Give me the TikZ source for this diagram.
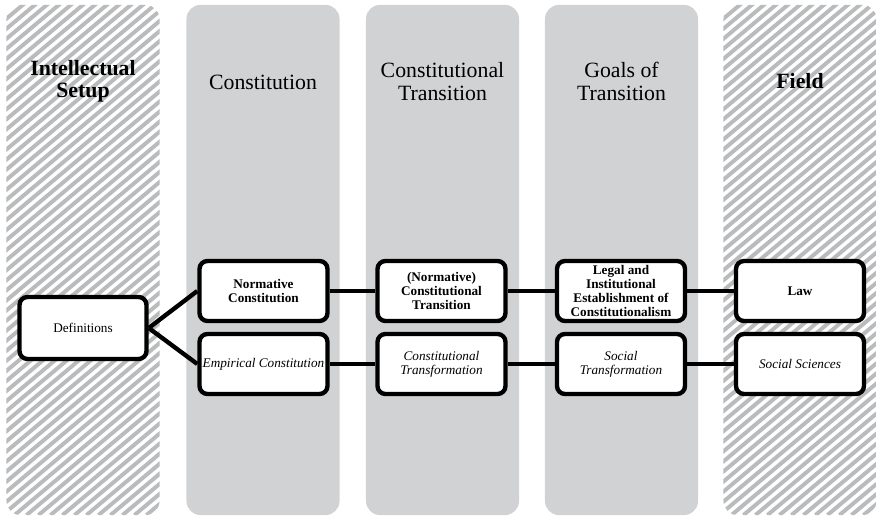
\documentclass[tikz,border=0pt]{standalone}
\usepackage{fontspec}
\setmainfont{Liberation Serif}
\usetikzlibrary{calc}
\pgfdeclarelayer{cols}
\pgfdeclarelayer{links}
\pgfsetlayers{cols,links,main}
\definecolor{colgrey}{RGB}{209,210,212}
\definecolor{hatchgrey}{RGB}{186,187,189}

\begin{document}
\begin{tikzpicture}[x=0.025cm,y=-0.025cm,
    column/.style={rectangle,rounded corners=0.35cm,inner sep=0pt,minimum width=3.825cm,minimum height=12.75cm},
    greycol/.style={column,fill=colgrey},
    hatchcol/.style={column,fill=white,path picture={
        \foreach \k in {-640,-628,...,170}
            \draw[hatchgrey,line width=2.8pt] ($(path picture bounding box.south west)+(\k,0)$) -- ++(700,-587);}},
    title/.style={align=center,font=\fontsize{15.5}{15.8}\selectfont},
    boldtitle/.style={title,font=\fontsize{15.5}{15.8}\selectfont\bfseries},
    box/.style={draw,line width=3.1pt,rounded corners=0.2cm,fill=white,align=center,inner sep=1pt,
        minimum width=3.2cm,minimum height=1.5cm,font=\fontsize{9.4}{9.8}\selectfont},
    normbox/.style={box,font=\fontsize{9.4}{9.8}\selectfont\bfseries},
    empbox/.style={box,font=\fontsize{9.4}{9.8}\selectfont\itshape},
    link/.style={line width=3.1pt}]

    \useasboundingbox (0,0) rectangle (877,517);

    % columns
    \begin{pgfonlayer}{cols}
        \foreach \n/\x/\s in {setupcol/83/hatchcol,constcol/263/greycol,transcol/442.5/greycol,goalscol/621.5/greycol,fieldcol/800/hatchcol} {
            \node[\s] (\n) at (\x,260) {};
        }
    \end{pgfonlayer}

    % column titles
    \node[boldtitle] (setup) at (83,81) {Intellectual\\Setup};
    \node[title] (const) at (263,82) {Constitution};
    \node[title] (trans) at (442.5,81.5) {Constitutional\\Transition};
    \node[title] (goals) at (621.5,81.5) {Goals of\\Transition};
    \node[boldtitle] (field) at (800,81) {Field};

    % boxes
    \node[box,minimum width=3.175cm,minimum height=1.55cm] (def) at (83,328) {Definitions};

    \node[normbox] (normc) at (263.5,291) {Normative\\Constitution};
    \node[empbox] (empc) at (263.5,364) {Empirical Constitution};

    \node[normbox] (normt) at (441.5,291) {(Normative)\\Constitutional\\Transition};
    \node[empbox] (transf) at (441.5,364) {Constitutional\\Transformation};

    \node[normbox] (legal) at (621,291) {Legal and\\Institutional\\Establishment of\\Constitutionalism};
    \node[empbox] (socialt) at (621,364) {Social\\Transformation};

    \node[normbox] (law) at (800,291) {Law};
    \node[empbox] (socsci) at (800,364) {Social Sciences};

    % connectors
    \begin{pgfonlayer}{links}
        \draw[link] (def.east) -- (normc.west);
        \draw[link] (def.east) -- (empc.west);
        \foreach \a/\b in {normc/normt,normt/legal,legal/law,empc/transf,transf/socialt,socialt/socsci} {
            \draw[link] (\a) -- (\b);
        }
    \end{pgfonlayer}
\end{tikzpicture}
\end{document}
